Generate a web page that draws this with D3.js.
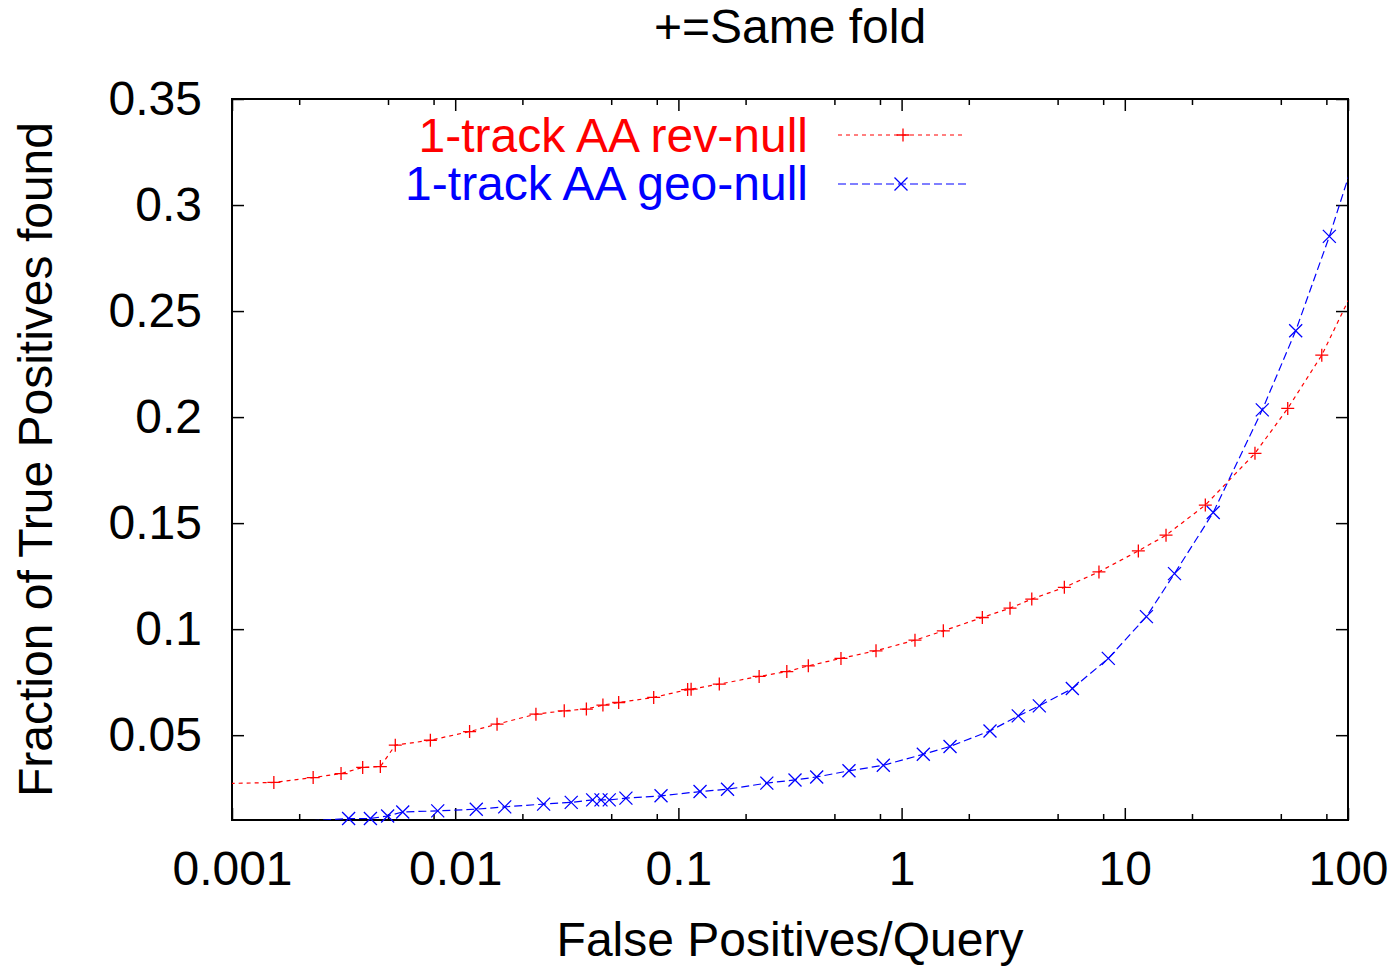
<!DOCTYPE html>
<html>
<head>
<meta charset="utf-8">
<script src="https://cdn.jsdelivr.net/npm/d3@7"></script>
<style>
  html, body { margin: 0; padding: 0; background: #fff; }
  svg text { font-family: "Liberation Sans", Arial, sans-serif; }
</style>
</head>
<body>
<svg id="chart" width="1394" height="967"></svg>
<script>
// ---- data ----
const titleText = "+=Same fold";
const xLabel = "False Positives/Query";
const yLabel = "Fraction of True Positives found";
const seriesNames = ["1-track AA rev-null", "1-track AA geo-null"];

const revX = [0.00077, 0.00154, 0.00231, 0.00308, 0.00385, 0.00462, 0.00539, 0.00774, 0.0116, 0.0154,
              0.0230, 0.0308, 0.0387, 0.0459, 0.0540, 0.0775, 0.110, 0.114, 0.1525, 0.230,
              0.306, 0.382, 0.535, 0.768, 1.148, 1.538, 2.30, 3.06, 3.83, 5.36,
              7.66, 11.5, 15.3, 22.95, 38.3, 53.7, 76.3, 108];
const revY = [0.0270, 0.0277, 0.0300, 0.0319, 0.0348, 0.0352, 0.0453, 0.0476, 0.0517, 0.0552,
              0.0599, 0.0615, 0.0623, 0.0642, 0.0654, 0.0678, 0.0715, 0.0717, 0.0741, 0.0777,
              0.0800, 0.0827, 0.0862, 0.0898, 0.0948, 0.0992, 0.1055, 0.1099, 0.1142, 0.1197,
              0.1270, 0.1369, 0.1443, 0.1585, 0.1829, 0.2041, 0.2292, 0.262];

const geoX = [0.002, 0.00333, 0.00417, 0.00498, 0.00582, 0.00835, 0.01243, 0.01667, 0.0249, 0.0331,
              0.0413, 0.0450, 0.0490, 0.0582, 0.0836, 0.125, 0.166, 0.249, 0.333, 0.4165,
              0.581, 0.828, 1.251, 1.648, 2.489, 3.332, 4.14, 5.82, 8.435, 12.5,
              16.7, 24.9, 41.3, 58.3, 82.5, 117];
const geoY = [0.0093, 0.0107, 0.0107, 0.0119, 0.0138, 0.0143, 0.0151, 0.0162, 0.0175, 0.0183,
              0.0195, 0.0195, 0.0195, 0.0203, 0.0214, 0.0234, 0.0245, 0.0274, 0.0289, 0.0303,
              0.0332, 0.0358, 0.0410, 0.0447, 0.0520, 0.0591, 0.0638, 0.0720, 0.0862, 0.1059,
              0.1262, 0.1550, 0.2034, 0.2407, 0.2852, 0.335];

const xMajorTicks = [0.001, 0.01, 0.1, 1, 10, 100];
const xTickLabels = ["0.001", "0.01", "0.1", "1", "10", "100"];
const xMinorTicks = [0.002, 0.005, 0.008, 0.02, 0.05, 0.08, 0.2, 0.5, 0.8, 2, 5, 8, 20, 50, 80];
const yTicks = [0.05, 0.1, 0.15, 0.2, 0.25, 0.3, 0.35];
const yTickLabels = ["0.05", "0.1", "0.15", "0.2", "0.25", "0.3", "0.35"];

// ---- layout ----
const L = 232, R = 1348, T = 99, B = 820;
const FS = 48;
const svg = d3.select("#chart");

const x = d3.scaleLog().domain([0.001, 100]).range([L, R]);
const y = d3.scaleLinear().domain([0.01, 0.35]).range([B, T]);

svg.append("defs").append("clipPath").attr("id", "plotclip")
  .append("rect").attr("x", L).attr("y", T).attr("width", R - L).attr("height", B - T);

function styleAxis(g) {
  g.select(".domain").remove();
  g.selectAll(".tick line").attr("stroke", "#000").attr("stroke-width", 1.5);
  g.selectAll(".tick text").attr("fill", "#000").style("font-size", FS + "px")
    .style("font-family", '"Liberation Sans", Arial, sans-serif');
}

// bottom axis majors with labels
svg.append("g").attr("transform", `translate(0,${B})`)
  .call(d3.axisBottom(x).tickValues(xMajorTicks).tickFormat((d, i) => xTickLabels[i])
        .tickSizeInner(-12).tickSizeOuter(0).tickPadding(31))
  .call(styleAxis);
// bottom minor
svg.append("g").attr("transform", `translate(0,${B})`)
  .call(d3.axisBottom(x).tickValues(xMinorTicks).tickFormat("").tickSizeInner(-6).tickSizeOuter(0))
  .call(styleAxis);
// top mirrored
svg.append("g").attr("transform", `translate(0,${T})`)
  .call(d3.axisTop(x).tickValues(xMajorTicks).tickFormat("").tickSizeInner(-12).tickSizeOuter(0))
  .call(styleAxis);
svg.append("g").attr("transform", `translate(0,${T})`)
  .call(d3.axisTop(x).tickValues(xMinorTicks).tickFormat("").tickSizeInner(-6).tickSizeOuter(0))
  .call(styleAxis);
// left
svg.append("g").attr("transform", `translate(${L},0)`)
  .call(d3.axisLeft(y).tickValues(yTicks).tickFormat((d, i) => yTickLabels[i])
        .tickSizeInner(-12).tickSizeOuter(0).tickPadding(30))
  .call(styleAxis);
// right mirrored
svg.append("g").attr("transform", `translate(${R},0)`)
  .call(d3.axisRight(y).tickValues(yTicks).tickFormat("").tickSizeInner(-12).tickSizeOuter(0))
  .call(styleAxis);

// border
svg.append("rect").attr("x", L).attr("y", T).attr("width", R - L).attr("height", B - T)
  .attr("fill", "none").attr("stroke", "#000").attr("stroke-width", 2);

// series
const series = [
  { name: seriesNames[0], xs: revX, ys: revY, color: "#ff0000", dash: "4,4", marker: "plus", ly: 135, ty: 152, mx: 903 },
  { name: seriesNames[1], xs: geoX, ys: geoY, color: "#0000ff", dash: "8,4", marker: "cross", ly: 184, ty: 200, mx: 901 }
];

const line = d3.line().x(d => x(d[0])).y(d => y(d[1]));
const M = 6.5;
function markerPath(type, cx, cy) {
  if (type === "plus") return `M${cx - M},${cy}H${cx + M}M${cx},${cy - M}V${cy + M}`;
  const m = M;
  return `M${cx - m},${cy - m}L${cx + m},${cy + m}M${cx - m},${cy + m}L${cx + m},${cy - m}`;
}

series.forEach(s => {
  const pts = s.xs.map((v, i) => [v, s.ys[i]]);
  svg.append("path").datum(pts).attr("clip-path", "url(#plotclip)")
    .attr("d", line).attr("fill", "none").attr("stroke", s.color)
    .attr("stroke-width", 1.2).attr("stroke-dasharray", s.dash);
  const inRange = pts.filter(p => p[0] >= 0.001 && p[0] <= 100 && p[1] >= 0.01 && p[1] <= 0.35);
  svg.append("g").selectAll("path").data(inRange).join("path")
    .attr("d", p => markerPath(s.marker, x(p[0]), y(p[1])))
    .attr("fill", "none").attr("stroke", s.color).attr("stroke-width", 1.3);

  // legend
  svg.append("text").attr("x", 808).attr("y", s.ty).attr("text-anchor", "end")
    .attr("fill", s.color).style("font-size", FS + "px").text(s.name);
  svg.append("line").attr("x1", 838).attr("x2", 966).attr("y1", s.ly).attr("y2", s.ly)
    .attr("stroke", s.color).attr("stroke-width", 1.2).attr("stroke-dasharray", s.dash);
  svg.append("path").attr("d", markerPath(s.marker, s.mx, s.ly))
    .attr("fill", "none").attr("stroke", s.color).attr("stroke-width", 1.3);
});

// titles
svg.append("text").attr("x", (L + R) / 2).attr("y", 43).attr("text-anchor", "middle")
  .style("font-size", FS + "px").attr("fill", "#000").text(titleText);
svg.append("text").attr("x", (L + R) / 2).attr("y", 956).attr("text-anchor", "middle")
  .style("font-size", FS + "px").attr("fill", "#000").text(xLabel);
svg.append("text").attr("transform", `translate(52,${(T + B) / 2}) rotate(-90)`)
  .attr("text-anchor", "middle").style("font-size", FS + "px").attr("fill", "#000").text(yLabel);
</script>
</body>
</html>
